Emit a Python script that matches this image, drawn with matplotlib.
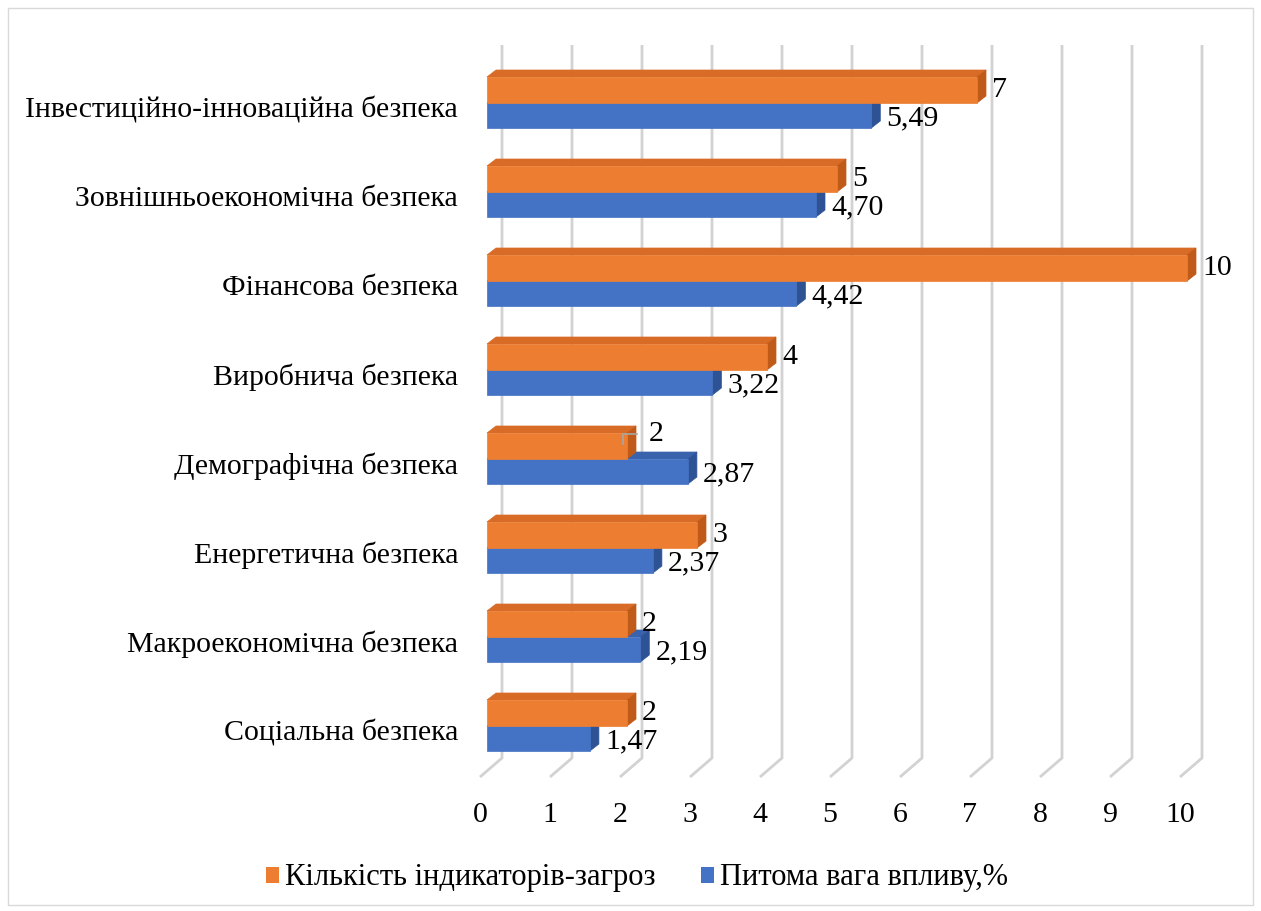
import matplotlib
matplotlib.use('Agg')
import matplotlib.pyplot as plt
from matplotlib.patches import Polygon, Rectangle, Patch

# Data (bottom to top, as in the chart)
categories = ["Соціальна безпека", "Макроекономічна безпека", "Енергетична безпека",
              "Демографічна безпека", "Виробнича безпека", "Фінансова безпека",
              "Зовнішньоекономічна безпека", "Інвестиційно-інноваційна безпека"]
threats = [2, 2, 3, 2, 4, 10, 5, 7]
weights = [1.47, 2.19, 2.37, 2.87, 3.22, 4.42, 4.70, 5.49]
weight_labels = ["1,47", "2,19", "2,37", "2,87", "3,22", "4,42", "4,70", "5,49"]
threat_name = "Кількість індикаторів-загроз"
weight_name = "Питома вага впливу,%"
xticks = list(range(0, 11))

plt.rcParams['font.family'] = ['Liberation Serif', 'DejaVu Serif']
FS = 21.5

W, H = 1261, 911
fig = plt.figure(figsize=(W / 100, H / 100), dpi=100)

# pixel geometry helpers (layout only)
X0, SX = 487.0, 70.0     # px of value 0 on the bars' front plane, px per unit
Y0, SY = 726.0, 89.0     # px of lowest group centre line, px per category
def vx(px):
    return (px - X0) / SX
def vy(px):
    return (Y0 - px) / SY

ax_l, ax_r, ax_t, ax_b = 470, 1240, 40, 790
ax = fig.add_axes([ax_l / W, 1 - ax_b / H, (ax_r - ax_l) / W, (ax_b - ax_t) / H])
ax.set_xlim(vx(ax_l), vx(ax_r))
ax.set_ylim(vy(ax_b), vy(ax_t))
ax.axis('off')

# back wall + floor grid lines
back = 15 / SX
front = -7 / SX
for v in xticks:
    ax.plot([v + back, v + back, v + front], [vy(45), vy(758), vy(777)],
            color='#d2d2d2', lw=2.0, zorder=1, solid_capstyle='butt')
    ax.text(v + front, vy(822), str(v), ha='center', va='baseline', fontsize=FS)

bh_o = 26 / SY
bh_b = 25 / SY
dx, dy = 9 / SX, 7 / SY

def bar3d(x, y0, h, front_c, top_c, side_c, z):
    ax.add_patch(Polygon([(0, y0 + h), (x, y0 + h), (x + dx, y0 + h + dy), (dx, y0 + h + dy)],
                         closed=True, fc=top_c, ec=top_c, lw=0.5, zorder=z))
    ax.add_patch(Polygon([(x, y0), (x, y0 + h), (x + dx, y0 + h + dy), (x + dx, y0 + dy)],
                         closed=True, fc=side_c, ec=side_c, lw=0.5, zorder=z))
    ax.add_patch(Rectangle((0, y0), x, h, fc=front_c, ec=front_c, lw=0.5, zorder=z + 0.1))

lbl_off = 6 / SX
for i, (t, w, wl) in enumerate(zip(threats, weights, weight_labels)):
    bar3d(w, i - bh_b, bh_b, '#4472C4', '#3A63AE', '#2E5395', 3)
    bar3d(t, i, bh_o, '#ED7D31', '#D86B25', '#C05A18', 4)
    ax.text(w + dx + lbl_off, i - bh_b / 2 - 3 / SY, wl, ha='left', va='center', fontsize=FS, zorder=6)
    if w - t > 0.5:
        # label moved up with a leader line
        ly = i + bh_o / 2 + 12 / SY
        ax.plot([t - 4 / SX, t - 4 / SX, t + 10 / SX], [i + bh_o / 2 + 2 / SY, ly, ly],
                color='#a6a6a6', lw=1.2, zorder=5)
        ax.text(t + dx + 13 / SX, ly, str(t), ha='left', va='center', fontsize=FS, zorder=6)
    else:
        ax.text(t + dx + lbl_off, i + bh_o / 2, str(t), ha='left', va='center', fontsize=FS, zorder=6)

# category labels
for i, c in enumerate(categories):
    ax.text(vx(458), i - 7 / SY, c, ha='right', va='center', fontsize=FS)

# legend
handles = [Patch(fc='#ED7D31', ec='none'), Patch(fc='#4472C4', ec='none')]
fig.legend(handles, [threat_name, weight_name], loc='center', ncol=2,
           bbox_to_anchor=(637 / W, 1 - 878 / H), frameon=False, fontsize=22,
           handlelength=0.42, handleheight=0.42, handletextpad=0.2, columnspacing=1.5)

# chart border
fig.patches.append(Rectangle((8 / W, 1 - 905 / H), (1253 - 8) / W, (905 - 8) / H,
                             transform=fig.transFigure, fill=False, ec='#d9d9d9', lw=1))

fig.savefig('out.png', dpi=100)
